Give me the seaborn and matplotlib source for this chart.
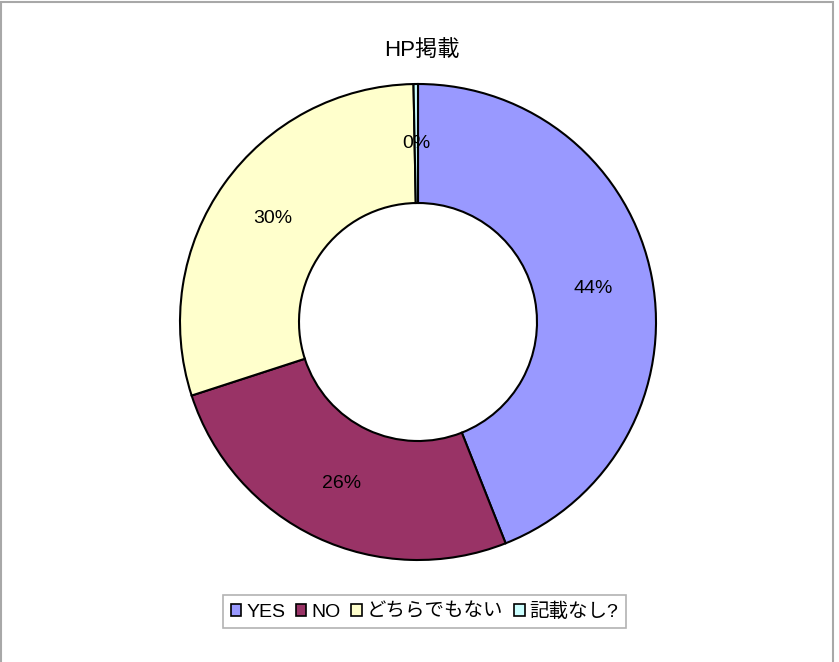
import matplotlib
matplotlib.use("Agg")
import matplotlib.pyplot as plt
from matplotlib.patches import Rectangle, Patch
import seaborn as sns

# data
categories = ["YES", "NO", "どちらでもない", "記載なし?"]
values = [44.0, 26.0, 29.7, 0.3]
colors = ["#9999FF", "#993366", "#FFFFCC", "#CCFFFF"]
title = "HP掲載"

sns.set_theme(style="white")
plt.rcParams['font.family'] = ['Liberation Sans', 'Noto Sans CJK JP', 'DejaVu Sans']
plt.rcParams['text.color'] = 'black'

W, H = 839, 662
fig = plt.figure(figsize=(W / 100, H / 100), dpi=100)
fig.patch.set_facecolor("white")

cx, cy, r = 418, 322, 238
ax = fig.add_axes([(cx - r) / W, (H - cy - r) / H, 2 * r / W, 2 * r / H])
wedges, texts, autotexts = ax.pie(
    values, colors=sns.color_palette(colors), startangle=90, counterclock=False,
    autopct='%1.0f%%', pctdistance=0.75,
    wedgeprops=dict(width=0.5, edgecolor="black", linewidth=1.5, clip_on=False),
    textprops=dict(fontsize=14, color="black"),
)
ax.set_xlim(-1, 1)
ax.set_ylim(-1, 1)
ax.set_aspect("auto")
ax.axis("off")

fig.text(422 / W, 1 - 51 / H, title, ha="center", va="center", fontsize=16, color="black")

handles = [Patch(facecolor=c, edgecolor="black", linewidth=1.2) for c in colors]
leg = fig.legend(handles, categories, loc="center", bbox_to_anchor=(424.5 / W, 1 - 611.5 / H),
                 ncol=4, frameon=True, fontsize=14, handlelength=0.55, handleheight=0.55,
                 handletextpad=0.25, columnspacing=0.55, borderpad=0.4, fancybox=False)
for t in leg.get_texts():
    t.set_color("black")
leg.get_frame().set_edgecolor("#a0a0a0")
leg.get_frame().set_linewidth(1.2)

fig.add_artist(Rectangle((0.8 / W, -0.1), (833 - 0.8) / W, 1.1 - 1.5 / H,
                         transform=fig.transFigure, fill=False,
                         edgecolor="#a8a8a8", linewidth=1.5))

fig.savefig("out.png", dpi=100, facecolor="white")
